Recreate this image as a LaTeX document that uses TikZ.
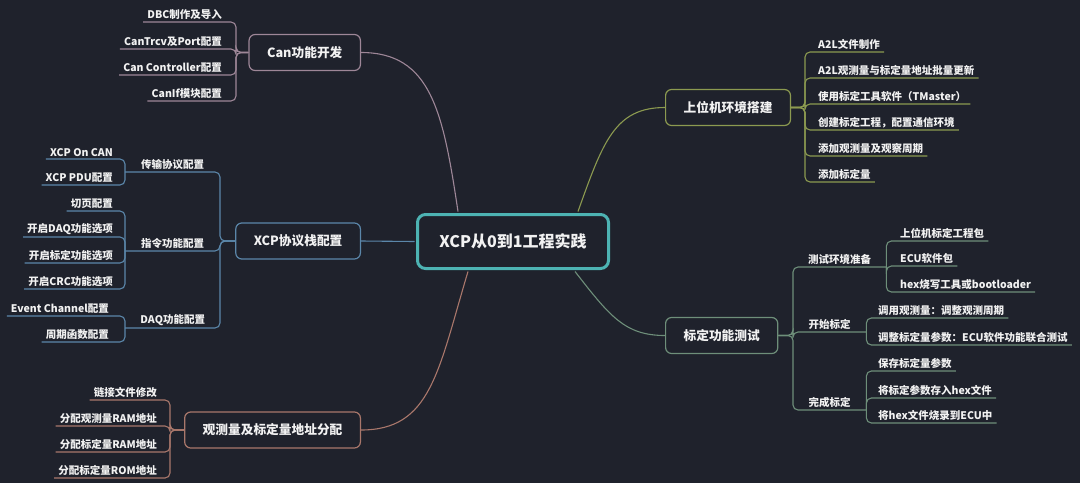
\documentclass[tikz,border=0pt]{standalone}
\usepackage{fontspec}
\setmainfont{Noto Sans CJK SC}
\usepackage{xcolor}
\usepackage{tikz}
\definecolor{bgcol}{HTML}{1F222C}
\definecolor{rootcol}{HTML}{4DB3B3}
\definecolor{cancol}{HTML}{9E8798}
\definecolor{xcpcol}{HTML}{5B87AA}
\definecolor{addrcol}{HTML}{A9776B}
\definecolor{pccol}{HTML}{8C9A50}
\definecolor{calcol}{HTML}{6E8F7A}
\definecolor{txtcol}{HTML}{F2F2F2}
\tikzset{
    tnode/.style = {align=center, text=txtcol, font=\bfseries\fontsize{10.5}{12}\selectfont},
    root_node/.style = {tnode, rectangle, rounded corners=8pt, draw=rootcol, line width=3pt, fill=bgcol, minimum width=191pt, minimum height=54pt, font=\bfseries\fontsize{16}{19}\selectfont},
    branch_node/.style = {tnode, rectangle, rounded corners=6pt, line width=1.2pt, fill=bgcol, inner xsep=18pt, minimum height=36pt, font=\bfseries\fontsize{12.7}{15}\selectfont},
    l_leaf/.style = {tnode, anchor=south east, inner xsep=4pt, inner ysep=2pt},
    r_leaf/.style = {tnode, anchor=south west, inner xsep=4pt, inner ysep=2pt},
    mid_node/.style = {tnode, anchor=south west, inner ysep=2pt},
    link/.style = {line width=1.1pt, rounded corners=5pt}
}

\begin{document}
\begin{tikzpicture}[x=1pt, y=-1pt]
    \fill [bgcol] (0,0) rectangle (1080,483);
    \useasboundingbox (0,0) rectangle (1080,483);

    % centre and main branches
    \node [root_node] (root) at (513,241.5) {XCP从0到1工程实践};
    \node [branch_node, draw=cancol, anchor=east] (can) at (361,52.5) {Can功能开发};
    \node [branch_node, draw=xcpcol, anchor=east] (xcp) at (361,241) {XCP协议栈配置};
    \node [branch_node, draw=addrcol, anchor=east] (addr) at (361,430) {观测量及标定量地址分配};
    \node [branch_node, draw=pccol, anchor=west] (pc) at (665,107.5) {上位机环境搭建};
    \node [branch_node, draw=calcol, anchor=west] (cal) at (665,335.5) {标定功能测试};

    \draw [link, cancol] ([xshift=42pt, yshift=1.5pt]root.north west) .. controls +(-15,-100) and +(70,0) .. (can.east);
    \draw [link, xcpcol] ([xshift=-1.5pt]root.west) -- (xcp.east);
    \draw [link, addrcol] ([xshift=52pt, yshift=-1.5pt]root.south west) .. controls +(-30,100) and +(70,0) .. (addr.east);
    \draw [link, pccol] ([xshift=-32pt, yshift=1.5pt]root.north east) .. controls +(25,-70) and +(-50,0) .. (pc.west);
    \draw [link, calcol] ([xshift=-35pt, yshift=-1.5pt]root.south east) .. controls +(35,45) and +(-40,0) .. (cal.west);

    % Can
    \coordinate (canj) at (236,52.5);
    \node [l_leaf] (dbc) at (226,22) {DBC制作及导入};
    \node [l_leaf] (trcv) at (226,49) {CanTrcv及Port配置};
    \node [l_leaf] (ctrl) at (226,75) {Can Controller配置};
    \node [l_leaf] (canif) at (226,101) {CanIf模块配置};
    \foreach \n in {dbc,trcv,ctrl,canif}
        \draw [link, cancol] (\n.south west) -- (\n.south -| canj) -- (canj) -- (can.west);

    % XCP
    \coordinate (xcpj) at (220,241);
    \node [mid_node, minimum width=95pt] (trans) at (125,172) {传输协议配置};
    \node [mid_node, minimum width=95pt] (cmd) at (125,251) {指令功能配置};
    \node [mid_node, minimum width=95pt] (daq) at (125,328) {DAQ功能配置};
    \foreach \n in {trans,cmd,daq}
        \draw [link, xcpcol] (\n.south west) -- (\n.south -| xcpj) -- (xcpj) -- (xcp.west);

    \node [l_leaf] (xon) at (117,159) {XCP On CAN};
    \node [l_leaf] (xpdu) at (117,185) {XCP PDU配置};
    \foreach \n in {xon,xpdu}
        \draw [link, xcpcol] (\n.south west) -- (\n.south -| trans.south west) -- (trans.south west);

    \node [l_leaf] (page) at (117,211) {切页配置};
    \node [l_leaf] (daqopt) at (117,237) {开启DAQ功能选项};
    \node [l_leaf] (calopt) at (117,263) {开启标定功能选项};
    \node [l_leaf] (crc) at (117,289) {开启CRC功能选项};
    \foreach \n in {page,daqopt,calopt,crc}
        \draw [link, xcpcol] (\n.south west) -- (\n.south -| cmd.south west) -- (cmd.south west);

    \node [l_leaf] (evch) at (113,316) {Event Channel配置};
    \node [l_leaf] (cyc) at (113,342) {周期函数配置};
    \foreach \n in {evch,cyc}
        \draw [link, xcpcol] (\n.south west) -- (\n.south -| daq.south west) -- (daq.south west);

    % address
    \coordinate (addrj) at (170,430);
    \node [l_leaf] (lnk) at (161,400) {链接文件修改};
    \node [l_leaf] (ramobs) at (161,426) {分配观测量RAM地址};
    \node [l_leaf] (ramcal) at (161,452) {分配标定量RAM地址};
    \node [l_leaf] (romcal) at (161,478) {分配标定量ROM地址};
    \foreach \n in {lnk,ramobs,ramcal,romcal}
        \draw [link, addrcol] (\n.south west) -- (\n.south -| addrj) -- (addrj) -- (addr.west);

    % PC side
    \coordinate (pcj) at (805,107.5);
    \node [r_leaf] (a2l) at (814,52) {A2L文件制作};
    \node [r_leaf] (a2lupd) at (814,78) {A2L观测量与标定量地址批量更新};
    \node [r_leaf] (tool) at (814,104) {使用标定工具软件（TMaster）};
    \node [r_leaf] (proj) at (814,130) {创建标定工程，配置通信环境};
    \node [r_leaf] (meas) at (814,156) {添加观测量及观察周期};
    \node [r_leaf] (addcal) at (814,182) {添加标定量};
    \foreach \n in {a2l,a2lupd,tool,proj,meas,addcal}
        \draw [link, pccol] (\n.south east) -- (\n.south -| pcj) -- (pcj) -- (pc.east);

    % calibration test
    \coordinate (calj) at (793,335.5);
    \node [mid_node, minimum width=93pt] (env) at (793,267) {测试环境准备};
    \node [mid_node, minimum width=73pt] (start) at (793,332) {开始标定};
    \node [mid_node, minimum width=73pt] (done) at (793,410) {完成标定};
    \foreach \n in {env,start,done}
        \draw [link, calcol] (\n.south east) -- (\n.south -| calj) -- (calj) -- (cal.east);

    \node [r_leaf] (pkg) at (896,241) {上位机标定工程包};
    \node [r_leaf] (ecu) at (896,266) {ECU软件包};
    \node [r_leaf] (hex) at (896,292) {hex烧写工具或bootloader};
    \foreach \n in {pkg,ecu,hex}
        \draw [link, calcol] (\n.south east) -- (\n.south -| env.south east) -- (env.south east);

    \node [r_leaf] (watch) at (874,318) {调用观测量：调整观测周期};
    \node [r_leaf] (tune) at (874,345) {调整标定量参数：ECU软件功能联合测试};
    \foreach \n in {watch,tune}
        \draw [link, calcol] (\n.south east) -- (\n.south -| start.south east) -- (start.south east);

    \node [r_leaf] (save) at (874,371) {保存标定量参数};
    \node [r_leaf] (tohex) at (874,398) {将标定参数存入hex文件};
    \node [r_leaf] (flash) at (874,423) {将hex文件烧录到ECU中};
    \foreach \n in {save,tohex,flash}
        \draw [link, calcol] (\n.south east) -- (\n.south -| done.south east) -- (done.south east);
\end{tikzpicture}
\end{document}
